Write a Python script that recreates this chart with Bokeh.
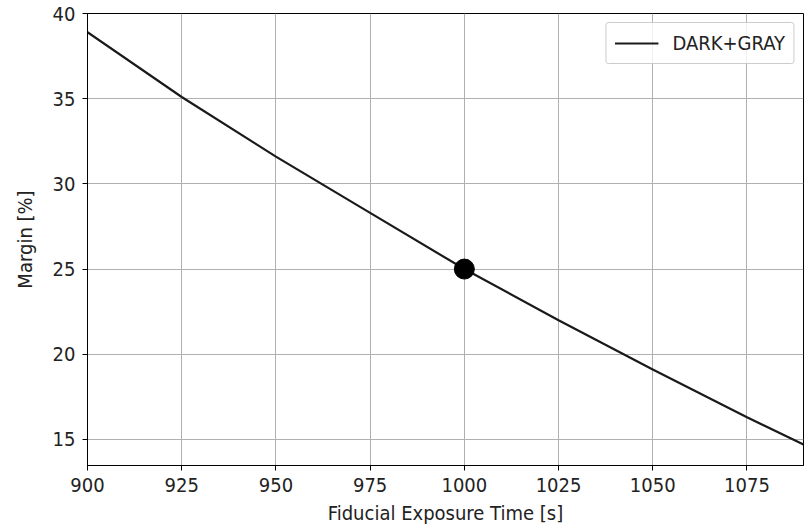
from bokeh.plotting import figure
from bokeh.models import Range1d, FixedTicker, Legend, LegendItem
from bokeh.embed import file_html
from bokeh.resources import INLINE

# Data
exposure_time = [900, 925, 950, 975, 1000, 1025, 1050, 1075, 1090]
margin = [38.9, 35.1, 31.6, 28.3, 25.0, 22.0, 19.1, 16.3, 14.7]
fiducial_time = [1000]
fiducial_margin = [25.0]
x_ticks = [900, 925, 950, 975, 1000, 1025, 1050, 1075]
y_ticks = [15, 20, 25, 30, 35, 40]
series_name = "DARK+GRAY"

FONT = "'DejaVu Sans Condensed', 'DejaVu Sans'"
FS = "20px"

p = figure(width=804, height=527, output_backend="svg", toolbar_location=None,
           x_range=Range1d(900, 1090), y_range=Range1d(13.47, 40))
p.min_border_left = 87
p.min_border_right = 1
p.min_border_top = 13
p.min_border_bottom = 61

p.outline_line_color = "black"
p.outline_line_width = 1
p.background_fill_color = "white"
p.border_fill_color = "white"

for ax in (p.xaxis[0], p.yaxis[0]):
    ax.axis_line_color = "black"
    ax.major_tick_line_color = "black"
    ax.major_tick_in = 0
    ax.major_tick_out = 5
    ax.minor_tick_line_color = None
    ax.major_label_text_font = FONT
    ax.major_label_text_font_size = FS
    ax.major_label_text_color = "#222222"
    ax.axis_label_text_font = FONT
    ax.axis_label_text_font_size = FS
    ax.axis_label_text_font_style = "normal"
    ax.axis_label_text_color = "#222222"

p.xaxis.ticker = FixedTicker(ticks=x_ticks)
p.yaxis.ticker = FixedTicker(ticks=y_ticks)
p.xaxis.axis_label = "Fiducial Exposure Time [s]"
p.yaxis.axis_label = "Margin [%]"
p.xaxis.major_label_standoff = 7
p.yaxis.major_label_standoff = 7
p.xaxis.axis_label_standoff = 6
p.yaxis.axis_label_standoff = 13

p.xgrid.grid_line_color = "#b0b0b0"
p.ygrid.grid_line_color = "#b0b0b0"
p.xgrid.grid_line_width = 1
p.ygrid.grid_line_width = 1

line = p.line(exposure_time, margin, line_color="#1a1a1a", line_width=2.2)
p.scatter(fiducial_time, fiducial_margin, size=20, color="black")

legend = Legend(items=[LegendItem(label=series_name, renderers=[line])],
                location="top_right")
legend.label_text_font = FONT
legend.label_text_font_size = FS
legend.label_text_color = "#222222"
legend.border_line_color = "#cccccc"
legend.border_line_alpha = 1
legend.background_fill_alpha = 0.8
legend.margin = 9
legend.padding = 8
legend.spacing = 0
legend.glyph_width = 44
legend.glyph_height = 16
legend.label_height = 16
legend.label_standoff = 14
legend.border_radius = 3
p.add_layout(legend)

open("out.html", "w").write(file_html(p, INLINE))
